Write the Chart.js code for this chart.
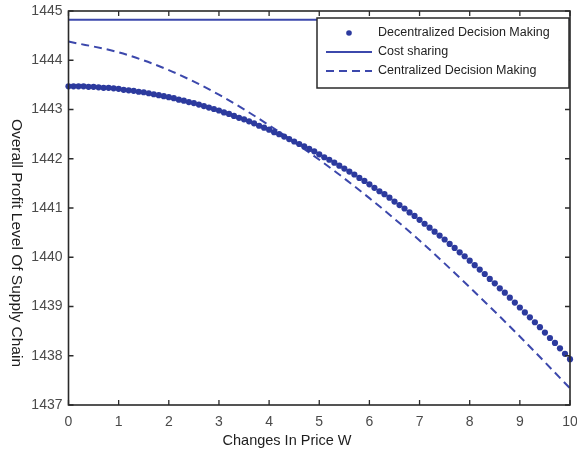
<!DOCTYPE html>
<html>
<head>
<meta charset="utf-8">
<script src="https://cdn.jsdelivr.net/npm/chart.js@4/dist/chart.umd.min.js"></script>
<style>
  html, body { margin: 0; padding: 0; background: #fff; }
  canvas { display: block; }
</style>
</head>
<body>
<canvas id="chart" width="577" height="453"></canvas>
<script>
// price change W, fine grid for the dotted series
const priceFine = [
  0, 0.1, 0.2, 0.3, 0.4, 0.5, 0.6, 0.7, 0.8, 0.9,
  1, 1.1, 1.2, 1.3, 1.4, 1.5, 1.6, 1.7, 1.8, 1.9,
  2, 2.1, 2.2, 2.3, 2.4, 2.5, 2.6, 2.7, 2.8, 2.9,
  3, 3.1, 3.2, 3.3, 3.4, 3.5, 3.6, 3.7, 3.8, 3.9,
  4, 4.1, 4.2, 4.3, 4.4, 4.5, 4.6, 4.7, 4.8, 4.9,
  5, 5.1, 5.2, 5.3, 5.4, 5.5, 5.6, 5.7, 5.8, 5.9,
  6, 6.1, 6.2, 6.3, 6.4, 6.5, 6.6, 6.7, 6.8, 6.9,
  7, 7.1, 7.2, 7.3, 7.4, 7.5, 7.6, 7.7, 7.8, 7.9,
  8, 8.1, 8.2, 8.3, 8.4, 8.5, 8.6, 8.7, 8.8, 8.9,
  9, 9.1, 9.2, 9.3, 9.4, 9.5, 9.6, 9.7, 9.8, 9.9,
  10
];
const decentralized = [
  1443.47, 1443.47, 1443.47, 1443.47, 1443.46, 1443.46, 1443.45, 1443.44, 1443.44, 1443.43,
  1443.42, 1443.40, 1443.39, 1443.38, 1443.36, 1443.35, 1443.33, 1443.31, 1443.29, 1443.27,
  1443.25, 1443.23, 1443.20, 1443.18, 1443.15, 1443.13, 1443.10, 1443.07, 1443.04, 1443.01,
  1442.98, 1442.94, 1442.91, 1442.87, 1442.83, 1442.80, 1442.76, 1442.72, 1442.67, 1442.63,
  1442.59, 1442.54, 1442.50, 1442.45, 1442.40, 1442.35, 1442.30, 1442.25, 1442.20, 1442.15,
  1442.09, 1442.03, 1441.98, 1441.92, 1441.86, 1441.80, 1441.74, 1441.68, 1441.61, 1441.55,
  1441.48, 1441.41, 1441.34, 1441.28, 1441.21, 1441.13, 1441.06, 1440.99, 1440.91, 1440.84,
  1440.76, 1440.68, 1440.60, 1440.52, 1440.44, 1440.36, 1440.27, 1440.19, 1440.10, 1440.02,
  1439.93, 1439.84, 1439.75, 1439.66, 1439.56, 1439.47, 1439.37, 1439.28, 1439.18, 1439.08,
  1438.98, 1438.88, 1438.78, 1438.68, 1438.58, 1438.47, 1438.36, 1438.26, 1438.15, 1438.04,
  1437.93
];
// coarse grid for the two lines
const priceCoarse = [0, 1, 2, 3, 4, 5, 6, 7, 8, 9, 10];
const centralized = [1444.38, 1444.16, 1443.80, 1443.30, 1442.68, 1441.98, 1441.20, 1440.34, 1439.39, 1438.39, 1437.34];
const costSharing = [1444.82, 1444.82, 1444.82, 1444.82, 1444.82, 1444.82, 1444.82, 1444.82, 1444.82, 1444.82, 1444.82];

const xTicks = [0, 1, 2, 3, 4, 5, 6, 7, 8, 9, 10];
const yTicks = [1437, 1438, 1439, 1440, 1441, 1442, 1443, 1444, 1445];

const seriesNames = ['Decentralized Decision Making', 'Cost sharing', 'Centralized Decision Making'];
const xTitle = 'Changes In Price W';
const yTitle = 'Overall Profit Level Of Supply Chain';

const dotColor = 'rgb(44,58,158)';
const lineColor = 'rgb(60,72,172)';
const FONT = '"Liberation Sans", Arial, sans-serif';

const pairs = (xs, ys) => xs.map((x, i) => ({ x, y: ys[i] }));

// frame with inward ticks on all sides, legend box and axis titles
const decor = {
  id: 'decor',
  afterDatasetsDraw(chart) {
    const { ctx, chartArea: a, scales } = chart;
    ctx.save();
    ctx.strokeStyle = '#2a2a2a';
    ctx.lineWidth = 1.6;
    ctx.strokeRect(a.left, a.top, a.right - a.left, a.bottom - a.top);
    ctx.lineWidth = 1.3;
    ctx.beginPath();
    xTicks.forEach(t => {
      const px = scales.x.getPixelForValue(t);
      ctx.moveTo(px, a.bottom); ctx.lineTo(px, a.bottom - 5);
      ctx.moveTo(px, a.top); ctx.lineTo(px, a.top + 5);
    });
    yTicks.forEach(t => {
      const py = scales.y.getPixelForValue(t);
      ctx.moveTo(a.left, py); ctx.lineTo(a.left + 5, py);
      ctx.moveTo(a.right, py); ctx.lineTo(a.right - 5, py);
    });
    ctx.stroke();
    ctx.restore();
  },
  afterDraw(chart) {
    const { ctx } = chart;
    ctx.save();
    // legend
    const lx = 317, ly = 18, lw = 252, lh = 70;
    ctx.fillStyle = '#fff';
    ctx.fillRect(lx, ly, lw, lh);
    ctx.strokeStyle = '#2a2a2a';
    ctx.lineWidth = 1.5;
    ctx.strokeRect(lx, ly, lw, lh);
    const rows = [33, 52, 71];
    ctx.font = '12.5px ' + FONT;
    ctx.fillStyle = '#222';
    ctx.textBaseline = 'middle';
    ctx.textAlign = 'left';
    seriesNames.forEach((name, i) => ctx.fillText(name, 378, rows[i]));
    ctx.fillStyle = dotColor;
    ctx.beginPath(); ctx.arc(349, rows[0], 2.8, 0, Math.PI * 2); ctx.fill();
    ctx.strokeStyle = lineColor;
    ctx.lineWidth = 2;
    ctx.beginPath(); ctx.moveTo(326, rows[1]); ctx.lineTo(372, rows[1]); ctx.stroke();
    ctx.setLineDash([8, 5]);
    ctx.beginPath(); ctx.moveTo(326, rows[2]); ctx.lineTo(372, rows[2]); ctx.stroke();
    ctx.setLineDash([]);
    // axis titles
    ctx.fillStyle = '#1e1e1e';
    ctx.font = '14.5px ' + FONT;
    ctx.textAlign = 'center';
    ctx.fillText(xTitle, 287, 441);
    ctx.font = '15.5px ' + FONT;
    ctx.translate(16.5, 243);
    ctx.rotate(Math.PI / 2);
    ctx.fillText(yTitle, 0, 0);
    ctx.restore();
  }
};

new Chart(document.getElementById('chart'), {
  type: 'scatter',
  data: {
    datasets: [
      {
        label: seriesNames[0],
        data: pairs(priceFine, decentralized),
        showLine: false,
        pointRadius: 3.1,
        pointBackgroundColor: dotColor,
        pointBorderWidth: 0,
        clip: false,
        order: 0
      },
      {
        label: seriesNames[1],
        data: pairs(priceCoarse, costSharing),
        showLine: true,
        borderColor: lineColor,
        borderWidth: 2,
        pointRadius: 0,
        order: 1
      },
      {
        label: seriesNames[2],
        data: pairs(priceCoarse, centralized),
        showLine: true,
        borderColor: lineColor,
        borderWidth: 2,
        borderDash: [8, 5],
        cubicInterpolationMode: 'monotone',
        pointRadius: 0,
        order: 2
      }
    ]
  },
  options: {
    responsive: false,
    animation: false,
    devicePixelRatio: 1,
    layout: { padding: { left: 0, right: 7, top: 11, bottom: 0 } },
    plugins: { legend: { display: false }, tooltip: { enabled: false } },
    scales: {
      x: {
        type: 'linear',
        min: 0, max: 10,
        afterBuildTicks: s => { s.ticks = xTicks.map(v => ({ value: v })); },
        afterFit: s => { s.height = 48; s.paddingLeft = 0; s.paddingRight = 0; },
        grid: { display: false, drawTicks: false },
        border: { display: false },
        ticks: { color: '#4a4a4a', font: { family: FONT, size: 14 }, padding: 9, maxRotation: 0 }
      },
      y: {
        min: 1437, max: 1445,
        afterBuildTicks: s => { s.ticks = yTicks.map(v => ({ value: v })); },
        afterFit: s => { s.width = 68.5; s.paddingTop = 0; s.paddingBottom = 0; },
        grid: { display: false, drawTicks: false },
        border: { display: false },
        ticks: {
          color: '#4a4a4a', font: { family: FONT, size: 14 }, padding: 6,
          callback: v => String(v)
        }
      }
    }
  },
  plugins: [decor]
});
</script>
</body>
</html>
